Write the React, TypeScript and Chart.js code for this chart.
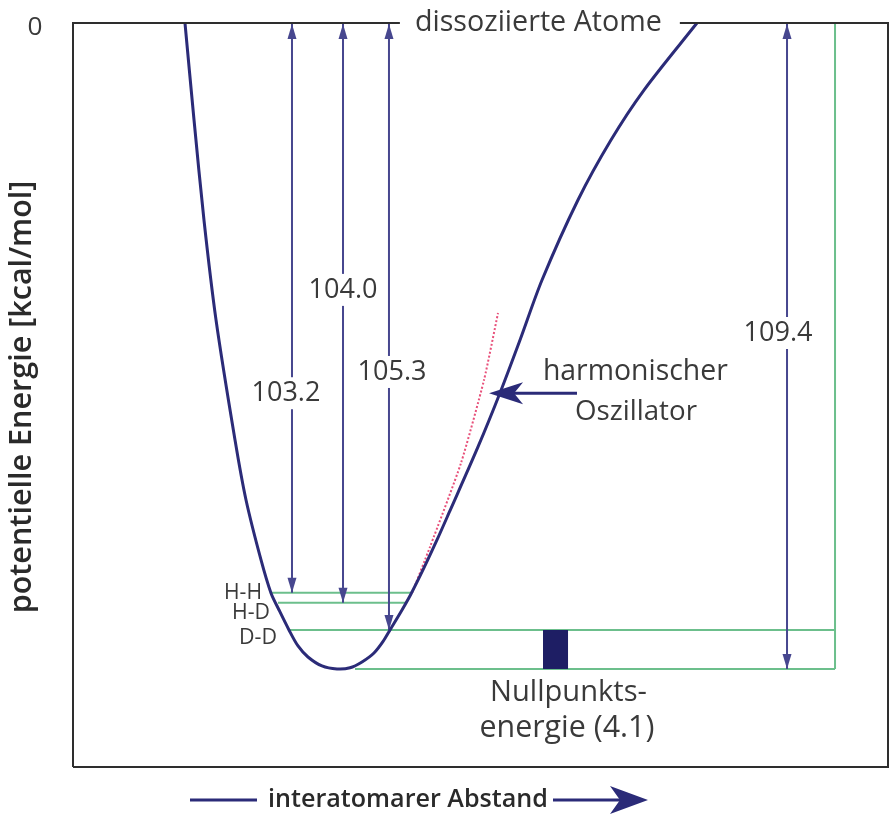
import React, { useEffect, useRef } from "react";
import { Chart, registerables } from "chart.js";
Chart.register(...registerables);

// Potential curve (x: arbitrary distance units 0..100, y: energy in kcal/mol)
const curveX = [13.74, 14.85, 16.07, 17.55, 19.88, 21.23, 23.07, 24.29, 25.28, 26.5, 27.61, 28.83, 30.55, 32.39, 33.99, 35.46, 36.93, 38.16, 38.9, 40.37, 41.47, 42.94, 44.66, 46.13, 49.69, 52.39, 54.85, 57.55, 61.96, 66.01, 70.06, 76.56];
const curveY = [0, -16.43, -33.36, -50.3, -70.62, -80.78, -90.94, -96.53, -99.41, -102.79, -105.5, -107.37, -108.89, -109.4, -109.2, -108.21, -106.69, -104.49, -102.79, -99.41, -96.7, -92.63, -87.55, -82.98, -71.8, -62.66, -53.68, -43.52, -29.97, -19.81, -11.35, 0];

// Harmonic oscillator approximation (dotted)
const harmX = [41.6, 43.8, 47.61, 50.43, 52.15];
const harmY = [-96.53, -88.74, -74.51, -60.46, -49.11];

// Zero-point levels
const levelNames = ["H-H", "H-D", "D-D"];
const levelY = [-96.5, -98.2, -102.8];
const levelXStart = [24.42, 25.15, 26.63];
const levelXEnd = [41.6, 40.9, 93.5];
const levelLabelX = [23.19, 24.17, 25.03];
const levelLabelY = [-96.5, -99.9, -104.1];
const wellMin = -109.4;
const wellLineXStart = 34.6;
const greenRightX = 93.5;

// Dissociation energies
const dissocValues = ["103.2", "104.0", "105.3", "109.4"];
const arrowX = [26.87, 33.13, 38.77, 87.61];
const arrowTo = [-96.5, -98.2, -102.8, -109.4];
const dissocLabelX = [26.13, 33.13, 39.14, 86.5];
const dissocLabelY = [-62.7, -45.2, -59.1, -52.5];

// Zero-point energy bar
const zpeBarX = [57.67, 60.74];
const zpeBarY = [-102.8, -109.4];

// Harmonic oscillator pointer
const harmArrowTailX = 61.84;
const harmArrowTipX = 51.05;
const harmArrowY = -62.7;

const X_MIN = 0, X_MAX = 100, Y_MIN = -126, Y_MAX = 0;

const NAVY = "#2b2b78";
const ARROW = "#47478f";
const GREEN = "#6cbf8c";
const TEXT = "#3a3a3a";
const FONT = '"Open Sans"';

function fitFont(ctx: CanvasRenderingContext2D, text: string, width: number, weight: number) {
  ctx.font = `${weight} 100px ${FONT}`;
  const w = ctx.measureText(text).width;
  const size = (100 * width) / w;
  ctx.font = `${weight} ${size}px ${FONT}`;
  return size;
}

const pts = (xs: number[], ys: number[]) => xs.map((v, i) => ({ x: v, y: ys[i] }));

const decoPlugin = {
  id: "deco",
  afterDatasetsDraw(chart: any) {
    const { ctx, chartArea: a, scales } = chart;
    const px = (v: number) => scales.x.getPixelForValue(v);
    const py = (v: number) => scales.y.getPixelForValue(v);
    ctx.save();

    // zero point energy bar
    ctx.fillStyle = "#1e1e64";
    ctx.fillRect(px(zpeBarX[0]), py(zpeBarY[0]), px(zpeBarX[1]) - px(zpeBarX[0]), py(zpeBarY[1]) - py(zpeBarY[0]));

    // vertical arrowheads
    ctx.fillStyle = ARROW;
    arrowX.forEach((ax, i) => {
      const x = px(ax);
      const top = py(0) + 1;
      ctx.beginPath();
      ctx.moveTo(x, top);
      ctx.lineTo(x - 4.5, top + 15);
      ctx.lineTo(x + 4.5, top + 15);
      ctx.closePath();
      ctx.fill();
      const bot = py(arrowTo[i]);
      ctx.beginPath();
      ctx.moveTo(x, bot);
      ctx.lineTo(x - 4.5, bot - 15);
      ctx.lineTo(x + 4.5, bot - 15);
      ctx.closePath();
      ctx.fill();
    });

    ctx.textAlign = "center";
    ctx.textBaseline = "middle";

    // dissociation energy labels with white gap in the arrow
    dissocValues.forEach((t, i) => {
      const x = px(dissocLabelX[i]);
      const y = py(dissocLabelY[i]);
      fitFont(ctx, t, 69, 400);
      ctx.fillStyle = "#ffffff";
      ctx.fillRect(x - 36, y - 16, 72, 32);
      ctx.fillStyle = TEXT;
      ctx.fillText(t, x, y);
    });

    // level labels
    ctx.textAlign = "right";
    levelNames.forEach((t, i) => {
      fitFont(ctx, t, 38, 400);
      ctx.fillStyle = TEXT;
      ctx.fillText(t, px(levelLabelX[i]), py(levelLabelY[i]));
    });

    // harmonic oscillator pointer
    const ty = py(harmArrowY);
    const tx = px(harmArrowTipX);
    ctx.strokeStyle = NAVY;
    ctx.lineWidth = 3;
    ctx.beginPath();
    ctx.moveTo(tx + 24, ty);
    ctx.lineTo(px(harmArrowTailX), ty);
    ctx.stroke();
    ctx.fillStyle = NAVY;
    ctx.beginPath();
    ctx.moveTo(tx, ty);
    ctx.lineTo(tx + 34, ty - 11);
    ctx.lineTo(tx + 25, ty);
    ctx.lineTo(tx + 34, ty + 11);
    ctx.closePath();
    ctx.fill();

    ctx.textAlign = "center";
    ctx.fillStyle = TEXT;
    fitFont(ctx, "harmonischer", 185, 400);
    ctx.fillText("harmonischer", px(69.0), py(-59.1));
    fitFont(ctx, "Oszillator", 122, 400);
    ctx.fillText("Oszillator", px(69.08), py(-65.9));
    fitFont(ctx, "Nullpunkts-", 157, 400);
    ctx.fillText("Nullpunkts-", px(60.8), py(-113.5));
    fitFont(ctx, "energie (4.1)", 175, 400);
    ctx.fillText("energie (4.1)", px(60.6), py(-119.4));

    // frame
    const topY = py(0);
    fitFont(ctx, "dissoziierte Atome", 247, 400);
    const dx = px(57.1);
    const tw = ctx.measureText("dissoziierte Atome").width;
    ctx.fillText("dissoziierte Atome", dx, topY);
    ctx.strokeStyle = "#2e2e2e";
    ctx.lineWidth = 2;
    ctx.beginPath();
    ctx.moveTo(a.left, a.bottom);
    ctx.lineTo(a.left, topY);
    ctx.lineTo(dx - tw / 2 - 15, topY);
    ctx.moveTo(dx + tw / 2 + 18, topY);
    ctx.lineTo(a.right, topY);
    ctx.lineTo(a.right, a.bottom);
    ctx.lineTo(a.left, a.bottom);
    ctx.stroke();

    // y "0" label
    fitFont(ctx, "0", 15, 400);
    ctx.fillStyle = TEXT;
    ctx.fillText("0", a.left - 38, topY + 5);

    // y axis title
    ctx.save();
    ctx.translate(a.left - 51, (a.top + a.bottom) / 2 + 2);
    ctx.rotate(-Math.PI / 2);
    fitFont(ctx, "potentielle Energie [kcal/mol]", 433, 600);
    ctx.fillStyle = "#2a2a2a";
    ctx.fillText("potentielle Energie [kcal/mol]", 0, 0);
    ctx.restore();

    // x axis title with arrow
    const xy = a.bottom + 33;
    fitFont(ctx, "interatomarer Abstand", 280, 600);
    ctx.fillStyle = "#2a2a2a";
    ctx.fillText("interatomarer Abstand", 408, xy);
    ctx.strokeStyle = NAVY;
    ctx.lineWidth = 3;
    ctx.beginPath();
    ctx.moveTo(190, xy);
    ctx.lineTo(257, xy);
    ctx.moveTo(553, xy);
    ctx.lineTo(620, xy);
    ctx.stroke();
    ctx.fillStyle = NAVY;
    ctx.beginPath();
    ctx.moveTo(648, xy);
    ctx.lineTo(610, xy - 14);
    ctx.lineTo(620, xy);
    ctx.lineTo(610, xy + 14);
    ctx.closePath();
    ctx.fill();

    ctx.restore();
  },
};

export default function App() {
  const ref = useRef<HTMLCanvasElement | null>(null);
  useEffect(() => {
    document.body.style.margin = "0";
    document.body.style.overflow = "hidden";
    const canvas = ref.current!;
    const levelSets = levelY.map((ly, i) => ({
      data: [{ x: levelXStart[i], y: ly }, { x: levelXEnd[i], y: ly }],
      borderColor: GREEN,
      borderWidth: 2,
      order: 3,
    }));
    const arrowSets = arrowX.map((ax, i) => ({
      data: [{ x: ax, y: 0 }, { x: ax, y: arrowTo[i] }],
      borderColor: ARROW,
      borderWidth: 2,
      order: 2,
    }));
    const chart = new Chart(canvas, {
      type: "scatter",
      data: {
        datasets: [
          {
            data: pts(curveX, curveY),
            borderColor: NAVY,
            borderWidth: 3,
            tension: 0.3,
            order: 0,
          } as any,
          {
            data: pts(harmX, harmY),
            borderColor: "#e8507a",
            borderWidth: 2,
            borderDash: [2, 2],
            tension: 0.2,
            order: 1,
          },
          ...levelSets,
          {
            data: [{ x: wellLineXStart, y: wellMin }, { x: greenRightX, y: wellMin }],
            borderColor: GREEN,
            borderWidth: 2,
            order: 3,
          },
          {
            data: [{ x: greenRightX, y: 0 }, { x: greenRightX, y: wellMin }],
            borderColor: GREEN,
            borderWidth: 2,
            order: 3,
          },
          ...arrowSets,
        ].map((d: any) => ({ showLine: true, pointRadius: 0, clip: false, ...d })),
      },
      options: {
        animation: false,
        responsive: false,
        events: [],
        layout: { padding: { left: 73, top: 23, right: 8, bottom: 50 } },
        plugins: { legend: { display: false }, tooltip: { enabled: false } },
        scales: {
          x: { type: "linear", min: X_MIN, max: X_MAX, display: false },
          y: { type: "linear", min: Y_MIN, max: Y_MAX, display: false },
        },
      },
      plugins: [decoPlugin],
    });
    return () => chart.destroy();
  }, []);
  return <canvas ref={ref} width={896} height={817} style={{ display: "block" }} />;
}
